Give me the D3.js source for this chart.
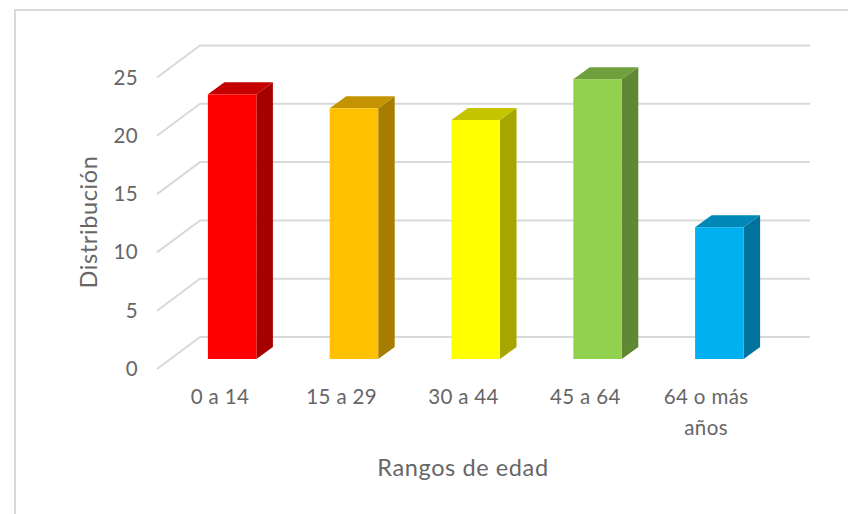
<!DOCTYPE html>
<html>
<head>
<meta charset="utf-8">
<script src="https://cdn.jsdelivr.net/npm/d3@7"></script>
<style>
  html, body { margin: 0; padding: 0; background: #fff; }
  svg { display: block; }
  text { font-family: Lato, "Open Sans", sans-serif; fill: #666; }
  .axis path, .axis line { display: none; }
  .axis text { font-size: 20.5px; letter-spacing: 0.35px; }
  .title { font-size: 23.5px; letter-spacing: 0.6px; }
</style>
</head>
<body>
<div id="chart"></div>
<script>
var categories = ["0 a 14", "15 a 29", "30 a 44", "45 a 64", "64 o más años"];
var values = [22.7, 21.5, 20.5, 24, 11.3];
var barColors = ["#ff0000", "#ffc000", "#ffff00", "#92d050", "#00b0f0"];
var yTicks = [0, 5, 10, 15, 20, 25];
var yTitle = "Distribución";
var xTitle = "Rangos de edad";

var width = 848, height = 514;
// the floor of the 3d box: front edge and how far the back wall is moved
var wall = {dx: 43, dy: -32};
var depth = {dx: 16.5, dy: -12};
var barShift = {dx: 14.25, dy: -10};

var x = d3.scaleBand().domain(categories).range([157, 766]).paddingInner(0);
var y = d3.scaleLinear().domain([0, 25]).range([369, 77.5]);
var barW = 48.5;

var svg = d3.select("#chart").append("svg")
  .attr("width", width)
  .attr("height", height);

// outer frame of the chart, only top and left are visible
svg.append("path")
  .attr("d", "M15," + height + "V10H" + width)
  .attr("fill", "none")
  .attr("stroke", "#d9d9d9")
  .attr("stroke-width", 2);

// gridlines, side wall + back wall
var grid = svg.append("g").attr("class", "grid");
grid.selectAll("path")
  .data(yTicks)
  .enter().append("path")
  .attr("d", function (d) {
    var x0 = x.range()[0], x1 = x.range()[1];
    return "M" + x0 + "," + y(d) +
      "L" + (x0 + wall.dx) + "," + (y(d) + wall.dy) +
      "H" + (x1 + wall.dx + 1);
  })
  .attr("fill", "none")
  .attr("stroke", "#d9d9d9")
  .attr("stroke-width", 2);

// bars
var bars = svg.selectAll(".bar")
  .data(values)
  .enter().append("g")
  .attr("class", "bar")
  .attr("transform", function (d, i) {
    return "translate(" + (x(categories[i]) + x.bandwidth() / 2 + barShift.dx - barW / 2) + "," + barShift.dy + ")";
  });

function shade(c, k) {
  var col = d3.rgb(c);
  return d3.rgb(col.r * k, col.g * k, col.b * k).formatHex();
}

// side face
bars.append("path")
  .attr("d", function (d) {
    return "M" + barW + "," + y(0) + "l" + depth.dx + "," + depth.dy +
      "V" + (y(d) + depth.dy) + "l" + (-depth.dx) + "," + (-depth.dy) + "Z";
  })
  .attr("fill", function (d, i) { return shade(barColors[i], 0.65); });

// top face
bars.append("path")
  .attr("d", function (d) {
    return "M0," + y(d) + "l" + depth.dx + "," + depth.dy +
      "h" + barW + "l" + (-depth.dx) + "," + (-depth.dy) + "Z";
  })
  .attr("fill", function (d, i) { return shade(barColors[i], 0.77); });

// front face
bars.append("rect")
  .attr("x", 0)
  .attr("y", function (d) { return y(d); })
  .attr("width", barW)
  .attr("height", function (d) { return y(0) - y(d); })
  .attr("fill", function (d, i) { return barColors[i]; });

// y axis
svg.append("g")
  .attr("class", "axis y")
  .attr("transform", "translate(138,0)")
  .call(d3.axisLeft(y).tickValues(yTicks).tickSize(0).tickPadding(0));

// x axis
var xAxis = svg.append("g")
  .attr("class", "axis x")
  .attr("transform", "translate(2,389)")
  .call(d3.axisBottom(x).tickSize(0).tickPadding(0));

// last label wraps in two lines
xAxis.selectAll(".tick text").each(function (d) {
  if (d !== "64 o más años") return;
  var t = d3.select(this), dy = t.attr("dy");
  t.text(null);
  t.append("tspan").attr("x", -1).attr("dy", dy).text("64 o más");
  t.append("tspan").attr("x", -1).attr("dy", "1.55em").text("años");
});

// axis titles
svg.append("text")
  .attr("class", "title")
  .attr("text-anchor", "middle")
  .attr("transform", "translate(97,222)rotate(-90)")
  .text(yTitle);

svg.append("text")
  .attr("class", "title")
  .attr("text-anchor", "middle")
  .attr("x", 463)
  .attr("y", 476)
  .text(xTitle);
</script>
</body>
</html>
